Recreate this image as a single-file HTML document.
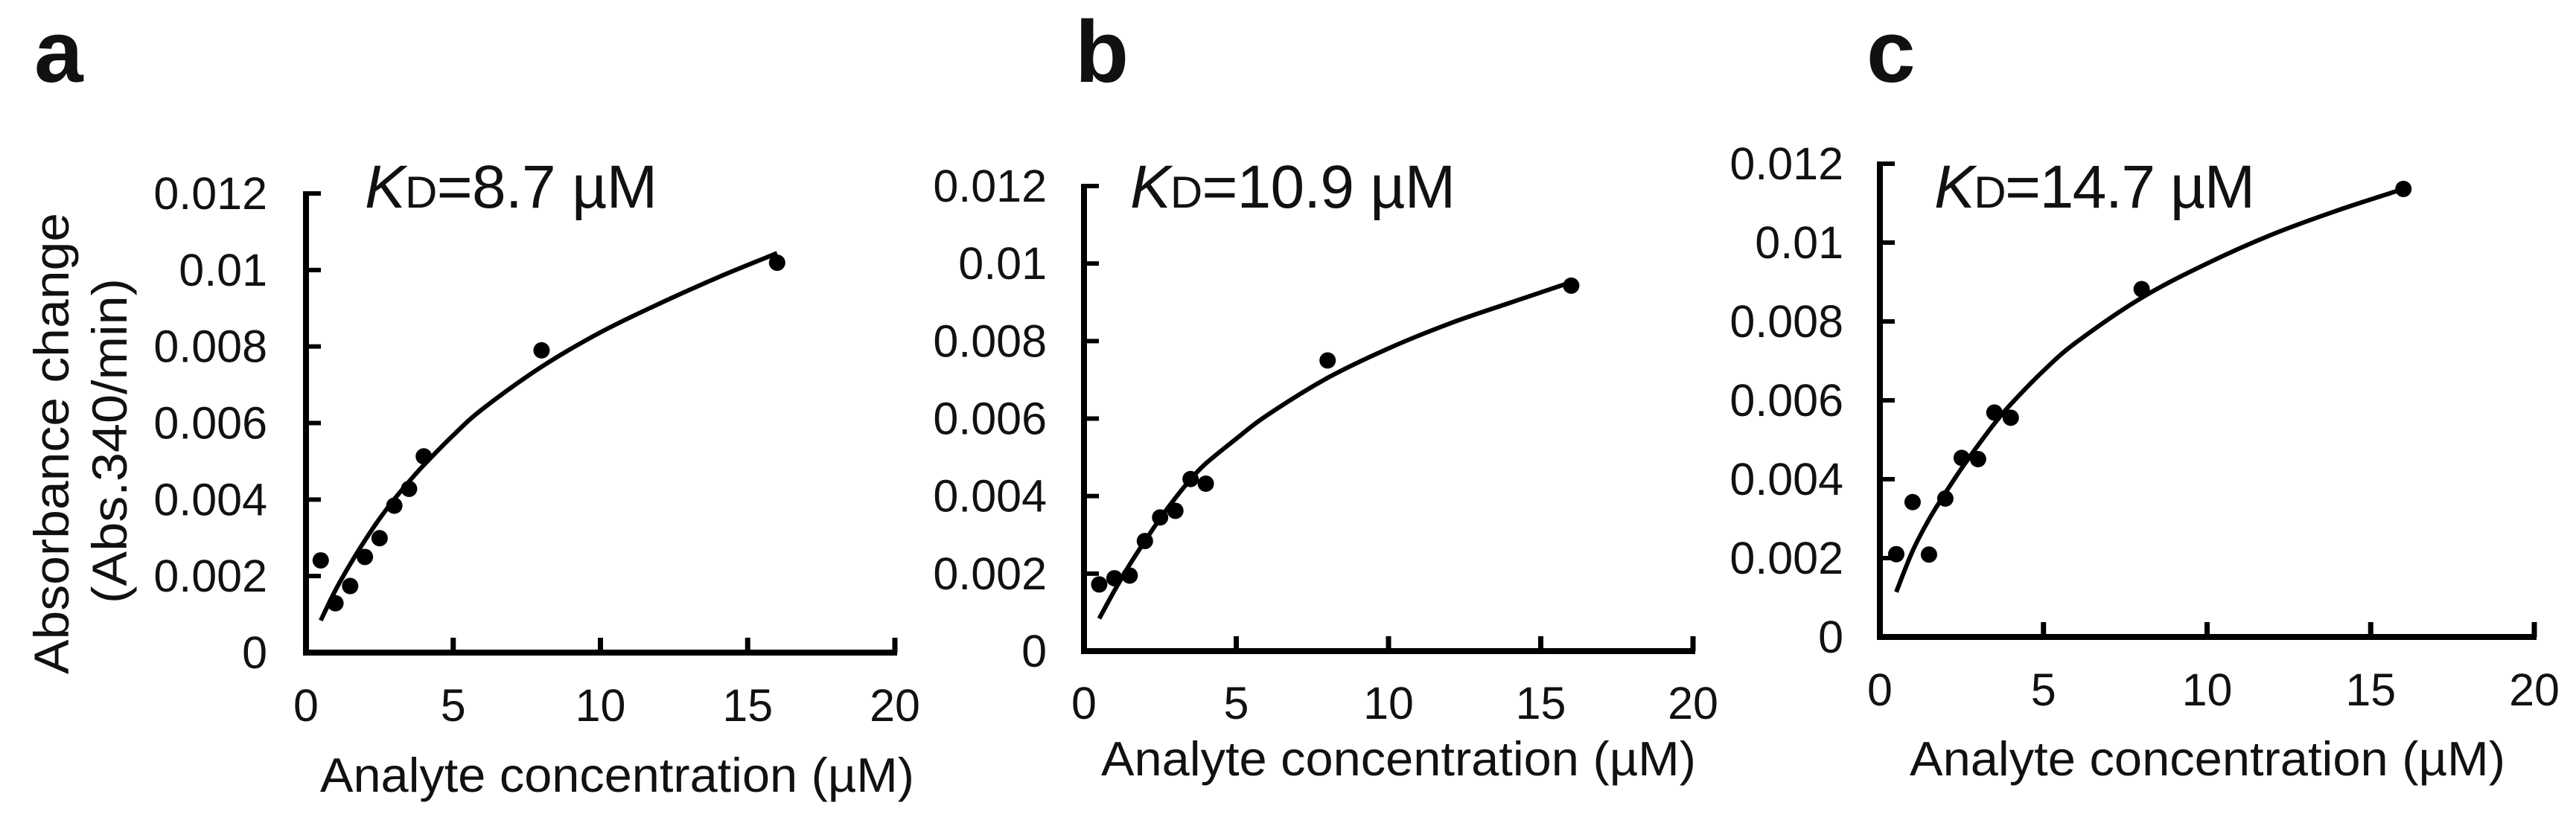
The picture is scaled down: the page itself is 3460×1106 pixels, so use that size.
<!DOCTYPE html>
<html lang="en">
<head>
<meta charset="utf-8">
<title>Analyte binding curves</title>
<style>
html,body{margin:0;padding:0;background:#fff;}
svg{display:block;}
text{font-family:"Liberation Sans",Arial,sans-serif;fill:#111;}
</style>
</head>
<body>
<svg id="figure" xmlns="http://www.w3.org/2000/svg" width="3460" height="1106" viewBox="0 0 3460 1106">
  <rect width="3460" height="1106" fill="#fff"/>
  <g id="panel-a">
    <text x="46" y="110" font-size="118" font-weight="bold">a</text>
    <text x="490" y="279" font-size="82" textLength="393"><tspan font-style="italic">K</tspan><tspan font-size="60">D</tspan>=8.7 µM</text>
    <text x="430" y="1064" font-size="65" textLength="798" lengthAdjust="spacingAndGlyphs">Analyte concentration (µM)</text>
    <text transform="translate(92,906) rotate(-90)" font-size="66" textLength="620" lengthAdjust="spacingAndGlyphs">Absorbance change</text>
    <text transform="translate(170,811) rotate(-90)" font-size="66" textLength="437" lengthAdjust="spacingAndGlyphs">(Abs.340/min)</text>
  </g>
  <g id="panel-b">
    <text x="1444" y="110" font-size="118" font-weight="bold">b</text>
    <text x="1518" y="279" font-size="82" textLength="437"><tspan font-style="italic">K</tspan><tspan font-size="60">D</tspan>=10.9 µM</text>
    <text x="1479" y="1042" font-size="65" textLength="799" lengthAdjust="spacingAndGlyphs">Analyte concentration (µM)</text>
  </g>
  <g id="panel-c">
    <text x="2507" y="110" font-size="118" font-weight="bold">c</text>
    <text x="2598" y="279" font-size="82" textLength="431"><tspan font-style="italic">K</tspan><tspan font-size="60">D</tspan>=14.7 µM</text>
    <text x="2565" y="1042" font-size="65" textLength="800" lengthAdjust="spacingAndGlyphs">Analyte concentration (µM)</text>
  </g>
</svg>
<script>
const xTickValues = [0, 5, 10, 15, 20];
const yTickValues = [0, 0.002, 0.004, 0.006, 0.008, 0.01, 0.012];
const xTickLabels = ['0', '5', '10', '15', '20'];
const yTickLabels = ['0', '0.002', '0.004', '0.006', '0.008', '0.01', '0.012'];

const pointConcentrations = [0.5, 1, 1.5, 2, 2.5, 3, 3.5, 4, 8, 16];
const curveConcentrations = [0.5, 1, 1.5, 2, 2.5, 3, 3.5, 4, 5, 6, 8, 10, 12, 14, 16];

const pointsA = [0.00241, 0.00129, 0.00174, 0.0025, 0.00299, 0.00384, 0.00428, 0.00513, 0.0079, 0.01019];
const curveA = [0.00084, 0.00163, 0.00231, 0.00293, 0.0035, 0.00401, 0.00447, 0.0049, 0.00568, 0.00637, 0.00747, 0.00837, 0.00912, 0.00981, 0.01044];

const pointsB = [0.00172, 0.00188, 0.00195, 0.00284, 0.00345, 0.00362, 0.00444, 0.00432, 0.0075, 0.00943];
const curveB = [0.00084, 0.00156, 0.00223, 0.00284, 0.00342, 0.00395, 0.00443, 0.00484, 0.00548, 0.00608, 0.00705, 0.00781, 0.00845, 0.00899, 0.00952];

const pointsC = [0.0021, 0.00342, 0.00209, 0.00351, 0.00454, 0.00451, 0.00569, 0.00556, 0.00882, 0.01136];
const curveC = [0.00114, 0.00218, 0.00298, 0.00365, 0.00428, 0.00486, 0.00541, 0.0059, 0.00675, 0.00747, 0.0086, 0.00947, 0.01021, 0.01082, 0.01136];

const NS = 'http://www.w3.org/2000/svg';

function drawPanel(id, frame, points, curve) {
  const g = document.getElementById(id);
  const sx = v => frame.left + (v / 20) * (frame.right - frame.left);
  const sy = v => frame.bottom - (v / 0.012) * (frame.bottom - frame.top);

  const yAxis = document.createElementNS(NS, 'line');
  yAxis.setAttribute('x1', sx(0));
  yAxis.setAttribute('x2', sx(0));
  yAxis.setAttribute('y1', sy(0.012) - 3);
  yAxis.setAttribute('y2', sy(0) + 4);
  yAxis.setAttribute('stroke', '#000');
  yAxis.setAttribute('stroke-width', 8);
  
  
  g.appendChild(yAxis);

  const xAxis = document.createElementNS(NS, 'line');
  xAxis.setAttribute('x1', sx(0) - 4);
  xAxis.setAttribute('x2', sx(20) + 3);
  xAxis.setAttribute('y1', sy(0));
  xAxis.setAttribute('y2', sy(0));
  xAxis.setAttribute('stroke', '#000');
  xAxis.setAttribute('stroke-width', 8);
  
  
  g.appendChild(xAxis);

  xTickValues.forEach((v, i) => {
    if (i > 0) {
      const t = document.createElementNS(NS, 'line');
      t.setAttribute('x1', sx(v));
      t.setAttribute('x2', sx(v));
      t.setAttribute('y1', sy(0));
      t.setAttribute('y2', sy(0) - 20);
      t.setAttribute('stroke', '#000');
      t.setAttribute('stroke-width', 7);
      
      
      g.appendChild(t);
    }
    const label = document.createElementNS(NS, 'text');
    label.setAttribute('x', sx(v));
    label.setAttribute('y', sy(0) + frame.xLabelGap);
    label.setAttribute('font-size', 61);
    label.setAttribute('text-anchor', 'middle');
    
    
    label.textContent = xTickLabels[i];
    g.appendChild(label);
  });

  yTickValues.forEach((v, i) => {
    if (i > 0) {
      const t = document.createElementNS(NS, 'line');
      t.setAttribute('x1', sx(0));
      t.setAttribute('x2', sx(0) + 20);
      t.setAttribute('y1', sy(v));
      t.setAttribute('y2', sy(v));
      t.setAttribute('stroke', '#000');
      t.setAttribute('stroke-width', 6);
      
      
      g.appendChild(t);
    }
    const label = document.createElementNS(NS, 'text');
    label.setAttribute('x', frame.labelRight);
    label.setAttribute('y', sy(v) + 21);
    label.setAttribute('font-size', 61);
    label.setAttribute('text-anchor', 'end');
    
    
    label.textContent = yTickLabels[i];
    g.appendChild(label);
  });

  const pts = curveConcentrations.map((c, i) => [sx(c), sy(curve[i])]);
  let d = 'M' + pts[0][0] + ' ' + pts[0][1];
  for (let i = 0; i < pts.length - 1; i++) {
    const p0 = pts[Math.max(i - 1, 0)];
    const p1 = pts[i];
    const p2 = pts[i + 1];
    const p3 = pts[Math.min(i + 2, pts.length - 1)];
    const c1x = p1[0] + (p2[0] - p0[0]) / 6;
    const c1y = p1[1] + (p2[1] - p0[1]) / 6;
    const c2x = p2[0] - (p3[0] - p1[0]) / 6;
    const c2y = p2[1] - (p3[1] - p1[1]) / 6;
    d += ' C' + c1x + ' ' + c1y + ' ' + c2x + ' ' + c2y + ' ' + p2[0] + ' ' + p2[1];
  }
  const line = document.createElementNS(NS, 'path');
  line.setAttribute('d', d);
  line.setAttribute('fill', 'none');
  line.setAttribute('stroke', '#000');
  line.setAttribute('stroke-width', 6);
  
  
  g.appendChild(line);

  pointConcentrations.forEach((c, i) => {
    const dot = document.createElementNS(NS, 'circle');
    dot.setAttribute('cx', sx(c));
    dot.setAttribute('cy', sy(points[i]));
    dot.setAttribute('r', 11);
    dot.setAttribute('fill', '#000');
    
    
    g.appendChild(dot);
  });
}

drawPanel('panel-a', {left: 411, right: 1202, top: 260, bottom: 877, labelRight: 359, xLabelGap: 92}, pointsA, curveA);
drawPanel('panel-b', {left: 1456, right: 2274, top: 250, bottom: 875, labelRight: 1406, xLabelGap: 91}, pointsB, curveB);
drawPanel('panel-c', {left: 2525, right: 3404, top: 220, bottom: 856, labelRight: 2476, xLabelGap: 92}, pointsC, curveC);
</script>
</body>
</html>
